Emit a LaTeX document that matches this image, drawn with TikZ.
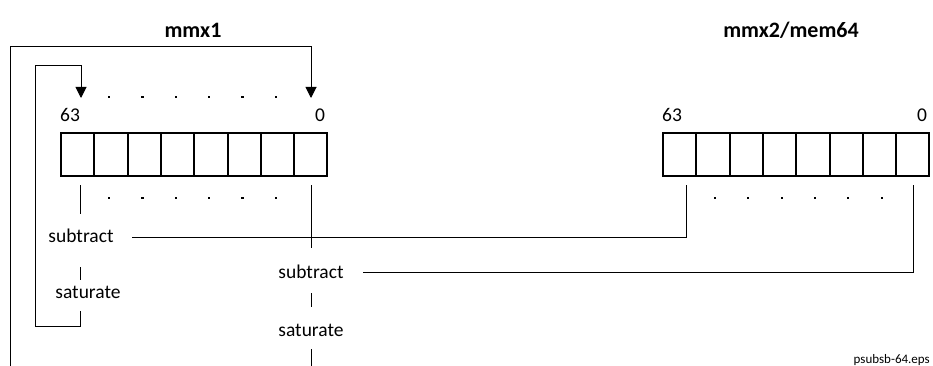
\documentclass[tikz,border=0pt]{standalone}
\usepackage{fontspec}
\setmainfont{Carlito}
\usetikzlibrary{arrows.meta}
\begin{document}
\begin{tikzpicture}[x=1pt,y=-1pt,
  cell/.style={draw,line width=2pt,minimum width=33.3pt,minimum height=43pt,inner sep=0pt,outer sep=0pt},
  conn/.style={line width=1pt},
  arr/.style={conn,-{Triangle[width=11pt,length=11pt]}},
  lbl/.style={font=\fontsize{19.5}{22}\selectfont,inner sep=0pt},
  ttl/.style={font=\bfseries\fontsize{22}{25}\selectfont,inner sep=0pt},
  dotm/.style={fill,rectangle,inner sep=0pt,minimum size=2.6pt}]
\useasboundingbox (0,0) rectangle (933,366);
% titles
\node[ttl] (t1) at (193,30) {mmx1};
\node[ttl] (t2) at (791,30) {mmx2/mem64};
% registers
\foreach \i in {0,...,7}{
  \node[cell] (a\i) at ({61+33.3*\i+16.65},154.5) {};
  \node[cell] (b\i) at ({663+33.3*\i+16.65},154.5) {};
}
\node[lbl] (a63) at (70,115) {63};
\node[lbl] (a0) at (320,115) {0};
\node[lbl] (b63) at (672,115) {63};
\node[lbl] (b0) at (922,115) {0};
% dots
\foreach \x in {109,142.5,176,209,242.5,276}{
  \node[dotm] at (\x,97) {};
  \node[dotm] at (\x,198) {};
}
\foreach \x in {715,748,782,815,848,882}{
  \node[dotm] at (\x,198) {};
}
% labels
\node[lbl] (sub1) at (81,236) {subtract};
\node[lbl] (sat1) at (88,292) {saturate};
\node[lbl] (sub2) at (311,272) {subtract};
\node[lbl] (sat2) at (311,330) {saturate};
\node[font=\fontsize{13}{15}\selectfont,inner sep=0pt,anchor=east] (fn) at (930,360) {psubsb-64.eps};
% coordinates
\coordinate (tipL) at (81,98);
\coordinate (tipR) at (311,98);
% connectors
\draw[arr] (10,366) -- (10,47) -- (311,47) -- (tipR);
\draw[arr] (80,311) -- (80,326) -- (35,326) -- (35,66) -- (81,66) -- (tipL);
\draw[conn] (80,185) -- (80,214);
\draw[conn] (80,267) -- (80,280);
\draw[conn] (311,185) -- (311,248);
\draw[conn] (311,293) -- (311,307);
\draw[conn] (311,349) -- (311,366);
\draw[conn] (132,237) -- (686,237) -- (686,185);
\draw[conn] (363,272) -- (913,272) -- (913,185);
\end{tikzpicture}
\end{document}
